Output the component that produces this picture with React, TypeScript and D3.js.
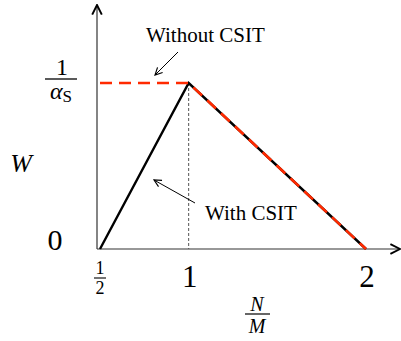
import React, { useRef, useEffect } from "react";
import * as d3 from "d3";

// N/M positions and normalised W
const RATIO = [0.5, 1, 2];
const WITH_CSIT = [0, 1, 0];
const WITHOUT_CSIT = [1, 1, 0];
const X_TICKS = ["1/2", "1", "2"];

export default function App() {
  const svgRef = useRef<SVGSVGElement>(null);

  useEffect(() => {
    const width = 401;
    const height = 341;
    const svg = d3.select(svgRef.current).attr("width", width).attr("height", height);
    svg.selectAll("*").remove();

    const font = "Liberation Serif, serif";
    const x = d3.scaleLinear().domain([0.5, 2]).range([100, 366]);
    const y = d3.scaleLinear().domain([0, 1]).range([249, 83]);

    const defs = svg.append("defs");
    const marker = (id: string, size: number, sw: number) => {
      defs
        .append("marker")
        .attr("id", id)
        .attr("viewBox", "0 0 10 10")
        .attr("refX", 9)
        .attr("refY", 5)
        .attr("markerWidth", size)
        .attr("markerHeight", size)
        .attr("markerUnits", "userSpaceOnUse")
        .attr("orient", "auto")
        .append("path")
        .attr("d", "M1,1 L9,5 L1,9")
        .attr("fill", "none")
        .attr("stroke", "#000")
        .attr("stroke-width", sw);
    };
    marker("axisArrow", 12, 1.6);
    marker("noteArrow", 9, 1.3);

    // axes
    svg.append("line")
      .attr("x1", 97).attr("y1", 249).attr("x2", 97).attr("y2", 5)
      .attr("stroke", "#333").attr("stroke-width", 1.2)
      .attr("marker-end", "url(#axisArrow)");
    svg.append("line")
      .attr("x1", 97).attr("y1", 249).attr("x2", 400).attr("y2", 249)
      .attr("stroke", "#333").attr("stroke-width", 1.2)
      .attr("marker-end", "url(#axisArrow)");

    // dotted guide at N/M = 1
    svg.append("line")
      .attr("x1", x(1)).attr("y1", y(1)).attr("x2", x(1)).attr("y2", y(0))
      .attr("stroke", "#555").attr("stroke-width", 1)
      .attr("stroke-dasharray", "3,2");

    const line = d3.line<number>()
      .x((d, i) => x(RATIO[i]))
      .y((d) => y(d));

    // with CSIT: solid black
    svg.append("path")
      .attr("d", line(WITH_CSIT))
      .attr("fill", "none")
      .attr("stroke", "#000")
      .attr("stroke-width", 2.4);

    // without CSIT: red dashed
    svg.append("path")
      .attr("d", line(WITHOUT_CSIT))
      .attr("fill", "none")
      .attr("stroke", "#ff2a00")
      .attr("stroke-width", 2.6)
      .attr("stroke-dasharray", "12,7");

    // y labels
    svg.append("text").attr("x", 62).attr("y", 75)
      .attr("text-anchor", "middle").style("font-family", font).style("font-size", "24px").text("1");
    svg.append("line").attr("x1", 45).attr("x2", 77).attr("y1", 79).attr("y2", 79)
      .attr("stroke", "#000").attr("stroke-width", 1.3);
    const alpha = svg.append("text").attr("x", 61).attr("y", 99)
      .attr("text-anchor", "middle").style("font-family", font).style("font-size", "24px");
    alpha.append("tspan").style("font-style", "italic").text("α");
    alpha.append("tspan").style("font-size", "17px").attr("dy", 3).text("S");

    svg.append("text").attr("x", 21).attr("y", 172)
      .attr("text-anchor", "middle").style("font-family", font)
      .style("font-size", "26px").style("font-style", "italic").text("W");
    svg.append("text").attr("x", 55).attr("y", 250)
      .attr("text-anchor", "middle").style("font-family", font).style("font-size", "30px").text("0");

    // x tick labels
    svg.append("text").attr("x", x(0.5)).attr("y", 274)
      .attr("text-anchor", "middle").style("font-family", font).style("font-size", "18px").text("1");
    svg.append("line").attr("x1", x(0.5) - 6).attr("x2", x(0.5) + 6).attr("y1", 278).attr("y2", 278)
      .attr("stroke", "#000").attr("stroke-width", 1.1);
    svg.append("text").attr("x", x(0.5)).attr("y", 294)
      .attr("text-anchor", "middle").style("font-family", font).style("font-size", "18px").text("2");
    X_TICKS.slice(1).forEach((t, i) => {
      svg.append("text").attr("x", x(RATIO[i + 1]) + 1).attr("y", 287)
        .attr("text-anchor", "middle").style("font-family", font).style("font-size", "31px").text(t);
    });

    // N/M label
    svg.append("text").attr("x", 257).attr("y", 311)
      .attr("text-anchor", "middle").style("font-family", font)
      .style("font-size", "20px").style("font-style", "italic").text("N");
    svg.append("line").attr("x1", 245).attr("x2", 270).attr("y1", 314).attr("y2", 314)
      .attr("stroke", "#000").attr("stroke-width", 1.2);
    svg.append("text").attr("x", 257).attr("y", 333)
      .attr("text-anchor", "middle").style("font-family", font)
      .style("font-size", "20px").style("font-style", "italic").text("M");

    // annotations
    svg.append("text").attr("x", 146).attr("y", 42)
      .style("font-family", font).style("font-size", "21px").text("Without CSIT");
    svg.append("line").attr("x1", 178).attr("y1", 52).attr("x2", 155).attr("y2", 75)
      .attr("stroke", "#000").attr("stroke-width", 1).attr("marker-end", "url(#noteArrow)");

    svg.append("text").attr("x", 205).attr("y", 220)
      .style("font-family", font).style("font-size", "21px").text("With CSIT");
    svg.append("line").attr("x1", 195).attr("y1", 203).attr("x2", 154).attr("y2", 180)
      .attr("stroke", "#000").attr("stroke-width", 1).attr("marker-end", "url(#noteArrow)");
  }, []);

  return <svg ref={svgRef} style={{ position: "absolute", left: 0, top: 0 }}></svg>;
}
